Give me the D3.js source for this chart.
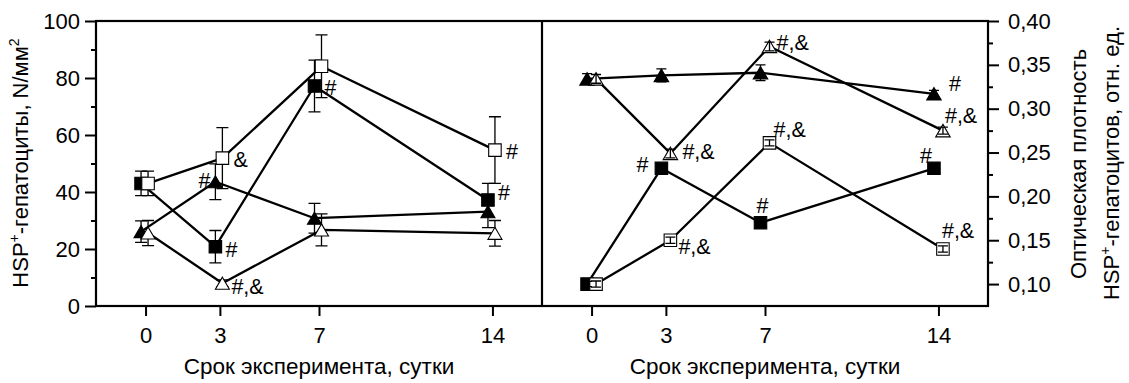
<!DOCTYPE html>
<html>
<head>
<meta charset="utf-8">
<script src="https://cdn.jsdelivr.net/npm/d3@7"></script>
<style>
  body { margin: 0; background: #fff; }
  text { font-family: "Liberation Sans", Arial, sans-serif; fill: #000; }
</style>
</head>
<body>
<svg id="chart" width="1129" height="383"></svg>
<script>
// ---- data ----
const days = [0, 3, 7, 14];
const dayTicks = [0, 3, 7, 14];
const countTicks = [0, 20, 40, 60, 80, 100];
const countMinorTicks = [10, 30, 50, 70, 90];
const densityTicks = [0.10, 0.15, 0.20, 0.25, 0.30, 0.35, 0.40];
const densityMinorTicks = [0.125, 0.175, 0.225, 0.275, 0.325, 0.375];

// HSP+ hepatocytes per mm²
const countFilledSquare = [43.0, 20.8, 77.2, 37.2];
const countFilledSquareErr = [4.3, 5.7, 9.1, 5.8];
const countOpenSquare = [43.0, 51.9, 84.1, 54.7];
const countOpenSquareErr = [4.3, 10.7, 11.0, 11.7];
const countFilledTriangle = [26.1, 43.6, 30.8, 33.1];
const countFilledTriangleErr = [3.8, 6.3, 5.2, 5.6];
const countOpenTriangle = [25.6, 8.0, 26.7, 25.5];
const countOpenTriangleErr = [4.4, 1.2, 5.6, 4.5];

// optical density of HSP+ hepatocytes, rel. units
const densityFilledSquare = [0.100, 0.232, 0.170, 0.232];
const densityFilledSquareErr = [0.003, 0.003, 0.003, 0.003];
const densityOpenSquare = [0.100, 0.150, 0.261, 0.140];
const densityOpenSquareErr = [0.0035, 0.0035, 0.0035, 0.0035];
const densityFilledTriangle = [0.334, 0.338, 0.341, 0.317];
const densityFilledTriangleErr = [0.006, 0.0075, 0.009, 0.004];
const densityOpenTriangle = [0.334, 0.249, 0.371, 0.275];
const densityOpenTriangleErr = [0.005, 0.005, 0.005, 0.004];

// significance marks next to points
const countFilledSquareMarks = ["", "#", "#", "#"];
const countOpenSquareMarks = ["", "&", "", "#"];
const countFilledTriangleMarks = ["", "#", "", ""];
const countOpenTriangleMarks = ["", "#,&", "", ""];
const densityFilledSquareMarks = ["", "#", "#", "#"];
const densityOpenSquareMarks = ["", "#,&", "#,&", "#,&"];
const densityFilledTriangleMarks = ["", "", "", "#"];
const densityOpenTriangleMarks = ["", "#,&", "#,&", "#,&"];

const xTitle = "Срок эксперимента, сутки";

// ---- layout ----
const svg = d3.select("#chart");
svg.append("rect").attr("width", 1129).attr("height", 383).attr("fill", "#fff");

const plotTop = 21, plotBottom = 306;
const fs = 21.5;
const tickFs = 22;

// label placement relative to marker: [dx, dy, anchor]
const place = {
  cFS: [null, [10, 3, "start"], [10, 2, "start"], [10, -7, "start"]],
  cOS: [null, [11, 2, "start"], null, [11, 2, "start"]],
  cFT: [null, [-5, -1, "end"], null, null],
  cOT: [null, [9, 4, "start"], null, null],
  dFS: [null, [-13, -3, "end"], [2, -17, "middle"], [-8, -12, "middle"]],
  dOS: [null, [8, 7, "start"], [4, -13, "start"], [-1, -18, "start"]],
  dFT: [null, null, null, [15, -10, "start"]],
  dOT: [null, [12, -1, "start"], [7, -3, "start"], [2, -15, "start"]]
};

const panels = [
  {
    x: d3.scaleLinear().domain([-2, 16]).range([96, 542]),
    y: d3.scaleLinear().domain([0, 100]).range([plotBottom, plotTop]),
    errOnTop: false, shift: { filled: -4.5, open: 2.5 }, cap: 6,
    sq: 12.5, tri: 14,
    series: [
      { v: countFilledSquare, e: countFilledSquareErr, shape: "square", filled: true, marks: countFilledSquareMarks, pl: place.cFS },
      { v: countFilledTriangle, e: countFilledTriangleErr, shape: "triangle", filled: true, marks: countFilledTriangleMarks, pl: place.cFT },
      { v: countOpenSquare, e: countOpenSquareErr, shape: "square", filled: false, marks: countOpenSquareMarks, pl: place.cOS },
      { v: countOpenTriangle, e: countOpenTriangleErr, shape: "triangle", filled: false, marks: countOpenTriangleMarks, pl: place.cOT }
    ]
  },
  {
    x: d3.scaleLinear().domain([-2, 16]).range([542, 988]),
    y: d3.scaleLinear().domain([0.075, 0.40]).range([plotBottom, plotTop]),
    errOnTop: true, shift: { filled: -4.5, open: 4.5 }, cap: 5,
    sq: 12.5, tri: 14.5,
    series: [
      { v: densityFilledSquare, e: densityFilledSquareErr, shape: "square", filled: true, marks: densityFilledSquareMarks, pl: place.dFS },
      { v: densityFilledTriangle, e: densityFilledTriangleErr, shape: "triangle", filled: true, marks: densityFilledTriangleMarks, pl: place.dFT },
      { v: densityOpenSquare, e: densityOpenSquareErr, shape: "square", filled: false, marks: densityOpenSquareMarks, pl: place.dOS },
      { v: densityOpenTriangle, e: densityOpenTriangleErr, shape: "triangle", filled: false, marks: densityOpenTriangleMarks, pl: place.dOT }
    ]
  }
];

function markerPath(shape, cx, cy, size) {
  if (shape === "square") {
    const h = size / 2;
    return `M${cx - h},${cy - h}H${cx + h}V${cy + h}H${cx - h}Z`;
  }
  const hw = size / 2, hh = size * 0.43;
  return `M${cx},${cy - hh}L${cx + hw},${cy + hh}L${cx - hw},${cy + hh}Z`;
}

panels.forEach(p => {
  const g = svg.append("g");
  const pts = s => s.v.map((v, i) => ({
    x: p.x(days[i]) + (s.filled ? p.shift.filled : p.shift.open),
    y: p.y(v), lo: p.y(v - s.e[i]), hi: p.y(v + s.e[i]), i
  }));

  const line = d3.line().x(d => d.x).y(d => d.y);
  // connecting lines
  p.series.forEach(s => {
    g.append("path").attr("d", line(pts(s)))
      .attr("fill", "none").attr("stroke", "#000").attr("stroke-width", 2.3)
      .attr("stroke-linejoin", "round");
  });

  const drawErr = () => p.series.forEach(s => {
    pts(s).forEach(d => {
      g.append("path")
        .attr("d", `M${d.x},${d.lo}V${d.hi}M${d.x - p.cap},${d.hi}H${d.x + p.cap}M${d.x - p.cap},${d.lo}H${d.x + p.cap}`)
        .attr("fill", "none").attr("stroke", "#000").attr("stroke-width", 1.3);
    });
  });
  const drawMarkers = () => p.series.forEach(s => {
    pts(s).forEach(d => {
      g.append("path")
        .attr("d", markerPath(s.shape, d.x, d.y, s.shape === "square" ? p.sq : p.tri))
        .attr("fill", s.filled ? "#000" : "#fff")
        .attr("stroke", "#000").attr("stroke-width", 1.1);
    });
  });

  if (p.errOnTop) { drawMarkers(); drawErr(); } else { drawErr(); drawMarkers(); }

  // significance marks
  p.series.forEach(s => {
    pts(s).forEach(d => {
      const t = s.marks[d.i];
      if (!t) return;
      const [dx, dy, anchor] = s.pl[d.i];
      g.append("text").attr("x", d.x + dx).attr("y", d.y + dy)
        .attr("dominant-baseline", "central").attr("text-anchor", anchor)
        .attr("font-size", fs).text(t);
    });
  });

  // x axis
  const xa = svg.append("g").attr("transform", `translate(0,${plotBottom})`)
    .call(d3.axisBottom(p.x).tickValues(dayTicks).tickSize(10).tickPadding(11).tickFormat(d3.format("d")));
  xa.select(".domain").remove();
  xa.selectAll(".tick line").attr("stroke-width", 2);
  xa.selectAll(".tick text").attr("font-size", tickFs).attr("font-family", null);

  svg.append("text").attr("x", (p.x.range()[0] + p.x.range()[1]) / 2).attr("y", 374)
    .attr("text-anchor", "middle").attr("font-size", 22.5).text(xTitle);
});

// left y axis
const yL = panels[0].y;
const la = svg.append("g").attr("transform", "translate(96,0)")
  .call(d3.axisLeft(yL).tickValues(countTicks).tickSize(11).tickPadding(5).tickFormat(d3.format("d")));
la.select(".domain").remove();
la.selectAll(".tick line").attr("stroke-width", 2);
la.selectAll(".tick text").attr("font-size", tickFs).attr("font-family", null);
svg.append("g").attr("transform", "translate(96,0)")
  .call(d3.axisLeft(yL).tickValues(countMinorTicks).tickSize(5).tickFormat(""))
  .call(a => a.select(".domain").remove())
  .selectAll(".tick line").attr("stroke-width", 2);

// right y axis
const yR = panels[1].y;
const fmtDensity = d => d3.format(".2f")(d).replace(".", ",");
const ra = svg.append("g").attr("transform", "translate(988,0)")
  .call(d3.axisRight(yR).tickValues(densityTicks).tickSize(11).tickPadding(9).tickFormat(fmtDensity));
ra.select(".domain").remove();
ra.selectAll(".tick line").attr("stroke-width", 2);
ra.selectAll(".tick text").attr("font-size", tickFs).attr("font-family", null);
svg.append("g").attr("transform", "translate(988,0)")
  .call(d3.axisRight(yR).tickValues(densityMinorTicks).tickSize(5).tickFormat(""))
  .call(a => a.select(".domain").remove())
  .selectAll(".tick line").attr("stroke-width", 2);

// frame and divider
svg.append("rect").attr("x", 96).attr("y", plotTop).attr("width", 988 - 96).attr("height", plotBottom - plotTop)
  .attr("fill", "none").attr("stroke", "#000").attr("stroke-width", 2.2);
svg.append("line").attr("x1", 542).attr("x2", 542).attr("y1", plotTop).attr("y2", plotBottom)
  .attr("stroke", "#000").attr("stroke-width", 2.2);

// axis titles
function supTitle(x, y, parts) {
  const t = svg.append("text").attr("transform", `translate(${x},${y}) rotate(-90)`)
    .attr("text-anchor", "middle").attr("font-size", 22);
  let raised = false;
  parts.forEach(([str, sup]) => {
    if (sup) {
      t.append("tspan").attr("font-size", 14).attr("dy", -9).text(str);
    } else {
      t.append("tspan").attr("dy", raised ? 9 : 0).text(str);
    }
    raised = !!sup;
  });
  return t;
}
supTitle(28, 163, [["HSP"], ["+", true], ["-гепатоциты, N/мм"], ["2", true]]);
svg.append("text").attr("transform", "translate(1086,164) rotate(-90)")
  .attr("text-anchor", "middle").attr("font-size", 22).text("Оптическая плотность");
supTitle(1119, 163, [["HSP"], ["+", true], ["-гепатоцитов, отн. ед."]]);
</script>
</body>
</html>
